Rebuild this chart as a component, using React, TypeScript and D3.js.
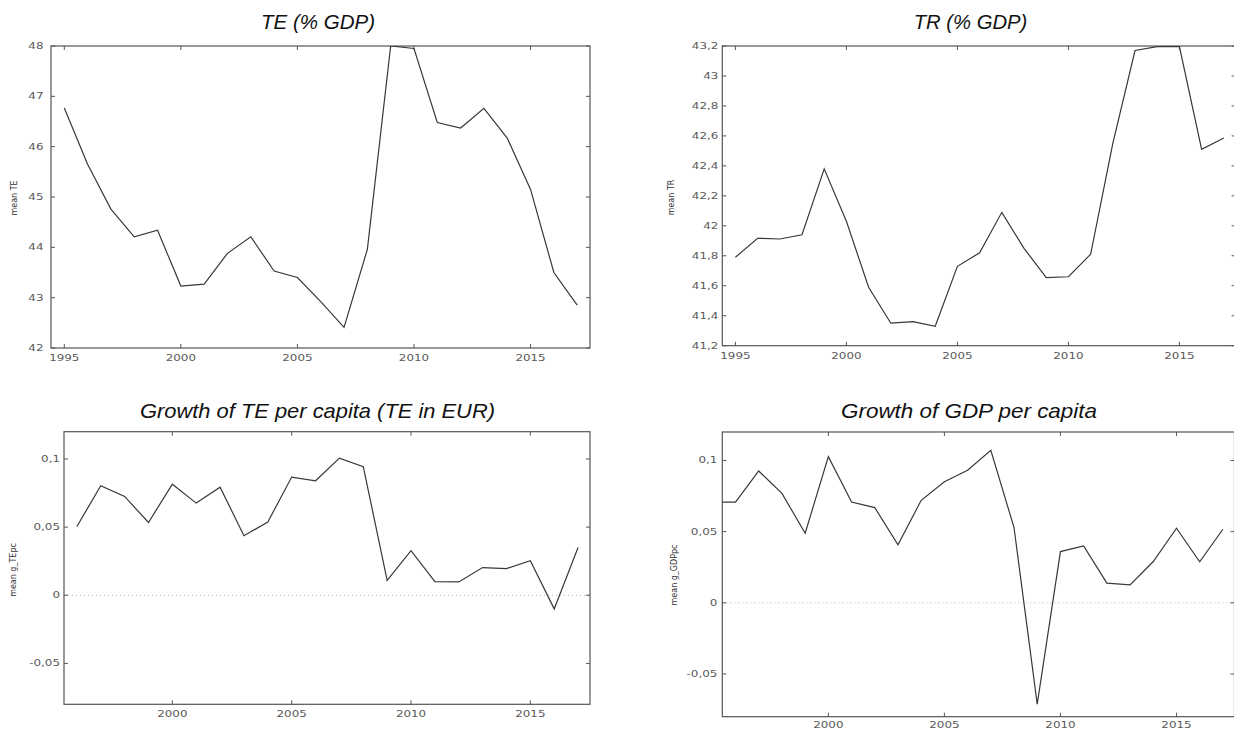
import React from "react";
import * as d3 from "d3";

// ---------- data ----------
const yearsFull = [1995, 1996, 1997, 1998, 1999, 2000, 2001, 2002, 2003, 2004, 2005, 2006, 2007, 2008, 2009, 2010, 2011, 2012, 2013, 2014, 2015, 2016, 2017];
const yearsGrowth = [1996, 1997, 1998, 1999, 2000, 2001, 2002, 2003, 2004, 2005, 2006, 2007, 2008, 2009, 2010, 2011, 2012, 2013, 2014, 2015, 2016, 2017];

const teValues = [46.77, 45.65, 44.76, 44.21, 44.34, 43.23, 43.27, 43.88, 44.21, 43.53, 43.40, 42.92, 42.41, 43.96, 48.0, 47.95, 46.48, 46.37, 46.76, 46.17, 45.15, 43.50, 42.85];
const trValues = [41.79, 41.917, 41.912, 41.94, 42.38, 42.03, 41.59, 41.35, 41.36, 41.33, 41.73, 41.82, 42.09, 41.85, 41.655, 41.66, 41.81, 42.55, 43.17, 43.196, 43.196, 42.51, 42.586];
const tepcValues = [0.0505, 0.0803, 0.0725, 0.0534, 0.0815, 0.0676, 0.0793, 0.0437, 0.0537, 0.0867, 0.084, 0.1006, 0.0944, 0.011, 0.0327, 0.010, 0.0098, 0.0203, 0.0195, 0.0254, -0.0100, 0.0351];
const gdppcValues = [0.0708, 0.0708, 0.0926, 0.0769, 0.0489, 0.1027, 0.0708, 0.0669, 0.0407, 0.072, 0.0851, 0.0931, 0.1071, 0.0529, -0.0712, 0.036, 0.040, 0.0138, 0.0126, 0.029, 0.0524, 0.0288, 0.0517];

const xTicksA = [1995, 2000, 2005, 2010, 2015];
const xTicksB = [2000, 2005, 2010, 2015];
const yTicksTE = [42, 43, 44, 45, 46, 47, 48];
const yTicksTR = [41.2, 41.4, 41.6, 41.8, 42, 42.2, 42.4, 42.6, 42.8, 43, 43.2];
const yTicksGrowth = [-0.05, 0, 0.05, 0.1];

const titles = ["TE (% GDP)", "TR (% GDP)", "Growth of TE per capita (TE in EUR)", "Growth of GDP per capita"];
const yLabels = ["mean TE", "mean TR", "mean g_TEpc", "mean g_GDPpc"];

// ---------- layout ----------
const W = 1234;
const H = 729;

const locale = d3.formatLocale({ decimal: ",", thousands: ".", grouping: [3], currency: ["", "€"], minus: "-" });
const fmt = locale.format("~g");

type Panel = {
  x0: number; x1: number; y0: number; y1: number;
  xd: [number, number]; yd: [number, number];
  xs: number[]; ys: number[];
  xTicks: number[]; yTicks: number[];
  title: string; titleX: number; titleY: number; titleLen: number;
  ylab: string; ylabX: number; ylabY: number;
  gap: number; xlabOff: number; zero: boolean;
};

const panels: Panel[] = [
  {
    x0: 51, x1: 590, y0: 46, y1: 348, xd: [1994.43, 2017.55], yd: [42, 48],
    xs: yearsFull, ys: teValues, xTicks: xTicksA, yTicks: yTicksTE,
    title: titles[0], titleX: 318, titleY: 29.3, titleLen: 114,
    ylab: yLabels[0], ylabX: 14.5, ylabY: 198, gap: 7.5, xlabOff: 10, zero: false,
  },
  {
    x0: 722.3, x1: 1235.6, y0: 46, y1: 345.7, xd: [1994.41, 2017.53], yd: [41.2, 43.2],
    xs: yearsFull, ys: trValues, xTicks: xTicksA, yTicks: yTicksTR,
    title: titles[1], titleX: 970.5, titleY: 29.3, titleLen: 113.6,
    ylab: yLabels[1], ylabX: 671, ylabY: 197.5, gap: 4, xlabOff: 10, zero: false,
  },
  {
    x0: 64, x1: 590, y0: 431.7, y1: 704.3, xd: [1995.46, 2017.5], yd: [-0.08, 0.12],
    xs: yearsGrowth, ys: tepcValues, xTicks: xTicksB, yTicks: yTicksGrowth,
    title: titles[2], titleX: 317.5, titleY: 417.5, titleLen: 355,
    ylab: yLabels[2], ylabX: 13.5, ylabY: 570, gap: 4, xlabOff: 10, zero: true,
  },
  {
    x0: 722.3, x1: 1234.5, y0: 432, y1: 716.7, xd: [1995.43, 2017.5], yd: [-0.08, 0.12],
    xs: yearsFull, ys: gdppcValues, xTicks: xTicksB, yTicks: yTicksGrowth,
    title: titles[3], titleX: 969, titleY: 417.5, titleLen: 256,
    ylab: yLabels[3], ylabX: 673.7, ylabY: 575, gap: 5, xlabOff: 8.5, zero: true,
  },
];

const TICK = 4;
const tickFont = "'DejaVu Sans', sans-serif";

function PanelView({ p, i }: { p: Panel; i: number }) {
  const x = d3.scaleLinear().domain(p.xd).range([p.x0, p.x1]);
  const y = d3.scaleLinear().domain(p.yd).range([p.y1, p.y0]);
  const line = d3.line<number>().x((_, k) => x(p.xs[k])).y((v) => y(v));
  const clipId = `clip-${i}`;
  return (
    <g>
      <defs>
        <clipPath id={clipId}>
          <rect x={p.x0} y={p.y0} width={p.x1 - p.x0} height={p.y1 - p.y0} />
        </clipPath>
      </defs>
      {p.zero && (
        <line x1={p.x0} x2={p.x1} y1={y(0)} y2={y(0)} stroke="#b8b8b8" strokeWidth={1} strokeDasharray="1,3" />
      )}
      <rect x={p.x0} y={p.y0} width={p.x1 - p.x0} height={p.y1 - p.y0} fill="none" stroke="#555" strokeWidth={1.2} />
      {p.yTicks.map((t) => (
        <g key={`y${t}`}>
          <line x1={p.x0} x2={p.x0 + TICK} y1={y(t)} y2={y(t)} stroke="#555" strokeWidth={1} />
          <line x1={p.x1} x2={p.x1 - TICK} y1={y(t)} y2={y(t)} stroke="#555" strokeWidth={1} />
          <text
            transform={`translate(${p.x0 - p.gap},${y(t)}) scale(1.4,1)`}
            textAnchor="end"
            dy="0.35em"
            fontFamily={tickFont}
            fontSize={8.5}
            fill="#5a5a5a"
          >
            {fmt(t)}
          </text>
        </g>
      ))}
      {p.xTicks.map((t) => (
        <g key={`x${t}`}>
          <line x1={x(t)} x2={x(t)} y1={p.y0} y2={p.y0 + TICK} stroke="#555" strokeWidth={1} />
          <line x1={x(t)} x2={x(t)} y1={p.y1} y2={p.y1 - TICK} stroke="#555" strokeWidth={1} />
          <text
            transform={`translate(${x(t)},${p.y1 + p.xlabOff}) scale(1.4,1)`}
            textAnchor="middle"
            dy="0.35em"
            fontFamily={tickFont}
            fontSize={8.5}
            fill="#5a5a5a"
          >
            {String(t)}
          </text>
        </g>
      ))}
      <path d={line(p.ys) || ""} fill="none" stroke="#383838" strokeWidth={1.2} clipPath={`url(#${clipId})`} />
      <text
        transform={`translate(${p.ylabX},${p.ylabY}) rotate(-90)`}
        textAnchor="middle"
        dy="0.35em"
        fontFamily={tickFont}
        fontSize={8}
        fill="#333"
      >
        {p.ylab}
      </text>
      <text
        x={p.titleX}
        y={p.titleY}
        textAnchor="middle"
        fontFamily="'Liberation Sans', Arial, sans-serif"
        fontStyle="italic"
        fontSize={21}
        fill="#111"
        textLength={p.titleLen}
        lengthAdjust="spacingAndGlyphs"
      >
        {p.title}
      </text>
    </g>
  );
}

export default function App() {
  return (
    <svg
      width={W}
      height={H}
      viewBox={`0 0 ${W} ${H}`}
      style={{ position: "absolute", left: 0, top: 0, display: "block", background: "#fff" }}
    >
      <rect x={0} y={0} width={W} height={H} fill="#fff" />
      {panels.map((p, i) => (
        <PanelView key={i} p={p} i={i} />
      ))}
    </svg>
  );
}
